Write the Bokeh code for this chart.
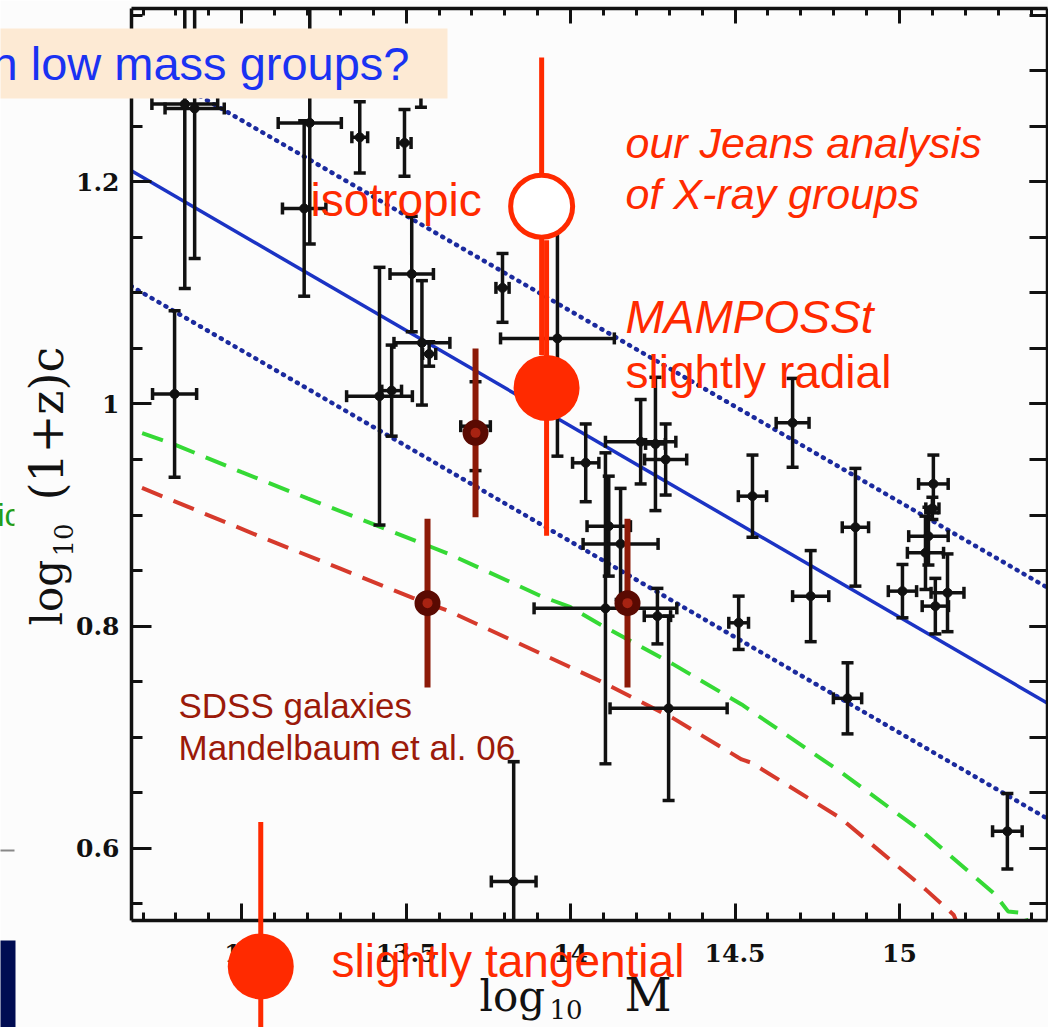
from math import pi

from bokeh.core.properties import value
from bokeh.embed import file_html
from bokeh.models import CustomJSTickFormatter, LinearAxis, Range1d, SingleIntervalTicker
from bokeh.plotting import figure
from bokeh.resources import INLINE

# ---------------------------------------------------------------------------
# X-ray groups and clusters: log10 M, log10 (1+z)c and their 1-sigma errors
group_logm = [12.827, 12.857, 13.207, 13.190, 13.359, 13.495, 13.545, 13.517, 13.548,
              13.570, 12.796, 13.419, 13.456, 13.793, 13.960, 13.711, 14.046, 14.213,
              14.258, 14.289, 14.116, 14.152, 14.106, 14.264, 14.298, 13.827, 14.553,
              14.511, 14.675, 14.730, 14.866, 14.842, 15.009, 15.103, 15.100, 15.088,
              15.079, 15.109, 15.146, 15.328]
group_logc = [1.270, 1.266, 1.253, 1.176, 1.240, 1.235, 1.300, 1.117, 1.055,
              1.045, 1.009, 1.007, 1.012, 1.1045, 1.059, 0.980, 0.947, 0.966,
              0.964, 0.950, 0.890, 0.874, 0.816, 0.809, 0.726, 0.570, 0.917,
              0.803, 0.983, 0.827, 0.889, 0.735, 0.8315, 0.928, 0.906, 0.881,
              0.866, 0.818, 0.830, 0.6153]
group_logm_err = [0.100, 0.090, 0.096, 0.066, 0.024, 0.020, 0.020, 0.066, 0.085,
                  0.020, 0.067, 0.100, 0.030, 0.020, 0.173, 0.045, 0.040, 0.107,
                  0.030, 0.064, 0.066, 0.114, 0.217, 0.040, 0.178, 0.068, 0.043,
                  0.030, 0.050, 0.055, 0.040, 0.043, 0.043, 0.045, 0.020, 0.060,
                  0.055, 0.040, 0.050, 0.045]
group_logc_err = [0.166, 0.135, 0.109, 0.079, 0.032, 0.030, 0.033, 0.052, 0.056,
                  0.011, 0.075, 0.116, 0.041, 0.031, 0.106, 0.040, 0.035, 0.038,
                  0.060, 0.032, 0.045, 0.050, 0.140, 0.025, 0.083, 0.108, 0.037,
                  0.024, 0.040, 0.041, 0.053, 0.032, 0.024, 0.026, 0.010, 0.026,
                  0.033, 0.025, 0.035, 0.034]

# power-law c-M fit with its +/- scatter
fit_logm = [12.60, 15.50]
fit_logc = [1.221, 0.722]
fit_logc_hi = [1.324, 0.826]
fit_logc_lo = [1.117, 0.618]

# LCDM predictions
model_a_logm = [12.60, 12.80, 13.00, 13.20, 13.40, 13.63, 13.80, 13.91, 14.00, 14.09,
                14.31, 14.52, 14.82, 15.08, 15.29, 15.33, 15.38, 15.42]
model_a_logc = [0.984, 0.963, 0.9386, 0.915, 0.8918, 0.865, 0.842, 0.827, 0.817, 0.8015,
                0.766, 0.7295, 0.669, 0.6124, 0.5586, 0.5432, 0.5417, 0.50]
model_b_logm = [12.60, 12.67, 13.065, 13.30, 13.52, 13.63, 13.85, 14.09, 14.31, 14.52,
                14.55, 14.82, 15.08, 15.165, 15.22]
model_b_logc = [0.935, 0.9277, 0.8796, 0.8517, 0.8255, 0.8135, 0.7835, 0.7505, 0.7174,
                0.680, 0.677, 0.6273, 0.5628, 0.540, 0.50]

# weak lensing of SDSS galaxies (Mandelbaum et al. 06)
sdss_logm = [13.711, 13.565, 14.173]
sdss_logc = [0.974, 0.8207, 0.8207]
sdss_logc_err = [0.076, 0.076, 0.076]

# Jeans analysis of X-ray groups
iso_logm = [13.912]
iso_logc = [1.178]
iso_logc_err = [0.134]
mamposst_logm = [13.927, 13.058]
mamposst_logc = [1.0144, 0.4937]
mamposst_logc_err = [0.133, 0.130]

# ---------------------------------------------------------------------------
X0, X1 = 12.665, 15.45
Y0, Y1 = 0.535, 1.356
W, H = 1048, 1027
FL, FR, FT, FB = 131, 1047, 8, 920


def at_x(px):
    return X0 + (px - FL) * (X1 - X0) / (FR - FL)


def at_y(py):
    return Y1 - (py - FT) * (Y1 - Y0) / (FB - FT)


RED = "#ff2a00"
MAROON = "#8c1a08"
INK = "#111111"
BG = "#fcfcfc"
SANS = "Liberation Sans"
SERIF = "DejaVu Serif"

p = figure(width=W, height=H, x_range=Range1d(X0, X1), y_range=Range1d(Y0, Y1),
           output_backend="svg", toolbar_location=None,
           min_border_left=FL, min_border_right=W - FR, min_border_top=FT,
           min_border_bottom=H - FB, background_fill_color=BG,
           border_fill_color=BG)
p.outline_line_color = None
p.grid.visible = False

fmt = CustomJSTickFormatter(code="return String(Math.round(tick * 100) / 100);")
blank = CustomJSTickFormatter(code="return '';")


def style_axis(ax, labelled, major_in, minor_in):
    ax.axis_line_width = 3.5
    ax.axis_line_color = INK
    ax.major_tick_line_width = 3
    ax.minor_tick_line_width = 3
    ax.major_tick_line_color = INK
    ax.minor_tick_line_color = INK
    ax.major_tick_in = major_in
    ax.major_tick_out = 0
    ax.minor_tick_in = minor_in
    ax.minor_tick_out = 0
    if labelled:
        ax.formatter = fmt
        ax.major_label_text_font = SERIF
        ax.major_label_text_font_style = "bold"
        ax.major_label_text_font_size = "25px"
        ax.major_label_text_color = INK
    else:
        ax.formatter = blank
        ax.major_label_standoff = 0
        ax.major_label_text_font_size = "1px"


xb = p.xaxis[0]
xb.ticker = SingleIntervalTicker(interval=0.5, num_minor_ticks=5)
style_axis(xb, True, 17, 8)
xb.major_label_standoff = 23

yl = p.yaxis[0]
yl.ticker = SingleIntervalTicker(interval=0.2, num_minor_ticks=4)
style_axis(yl, True, 20, 11)
yl.major_label_standoff = 12

xt = LinearAxis(ticker=SingleIntervalTicker(interval=0.5, num_minor_ticks=5))
style_axis(xt, False, 15, 7)
p.add_layout(xt, "above")
yr = LinearAxis(ticker=SingleIntervalTicker(interval=0.2, num_minor_ticks=4))
style_axis(yr, False, 18, 18)
p.add_layout(yr, "right")

# model curves and fit
p.line(model_a_logm, model_a_logc, line_color="#35d935", line_width=4, line_dash="22 12")
p.line(model_b_logm, model_b_logc, line_color="#d63a2c", line_width=4, line_dash="22 12")
p.line(fit_logm, fit_logc, line_color="#1b33c4", line_width=3.5)
p.line(fit_logm, fit_logc_hi, line_color="#1b2a9e", line_width=4.5, line_dash="1 7",
       line_cap="round")
p.line(fit_logm, fit_logc_lo, line_color="#1b2a9e", line_width=4.5, line_dash="1 7",
       line_cap="round")

# error bars with caps
cap_x = 6 * (X1 - X0) / (FR - FL)
cap_y = 6 * (Y1 - Y0) / (FB - FT)
x0s, y0s, x1s, y1s = [], [], [], []
for x, y, ex, ey in zip(group_logm, group_logc, group_logm_err, group_logc_err):
    x0s += [x, x - ex, x - cap_x, x - cap_x, x - ex, x + ex]
    x1s += [x, x + ex, x + cap_x, x + cap_x, x - ex, x + ex]
    y0s += [y - ey, y, y - ey, y + ey, y - cap_y, y - cap_y]
    y1s += [y + ey, y, y - ey, y + ey, y + cap_y, y + cap_y]
p.segment(x0s, y0s, x1s, y1s, line_color=INK, line_width=3.5)
p.scatter(group_logm, group_logc, size=9, color=INK)

# SDSS lensing points
p.segment(sdss_logm, [y - e for y, e in zip(sdss_logc, sdss_logc_err)],
          sdss_logm, [y + e for y, e in zip(sdss_logc, sdss_logc_err)],
          line_color=MAROON, line_width=6)
p.scatter(sdss_logm, sdss_logc, size=26, fill_color="#5a0a02", line_color=None)
p.scatter(sdss_logm, sdss_logc, size=10, fill_color="#a82312", line_color=None)

# Jeans analysis results (drawn above the axes)
p.segment(iso_logm, [y - e for y, e in zip(iso_logc, iso_logc_err)],
          iso_logm, [y + e for y, e in zip(iso_logc, iso_logc_err)],
          line_color=RED, line_width=5, level="overlay")
p.segment(mamposst_logm, [y - e for y, e in zip(mamposst_logc, mamposst_logc_err)],
          mamposst_logm, [y + e for y, e in zip(mamposst_logc, mamposst_logc_err)],
          line_color=RED, line_width=5, level="overlay")
p.scatter(iso_logm, iso_logc, size=62, fill_color="white", line_color=RED,
          line_width=5, level="overlay")
p.scatter(mamposst_logm, mamposst_logc, size=66, fill_color=RED, line_color=None,
          level="overlay")

# glyph text sits a little below the requested baseline; lift it back
LIFT = 0.38


def text(s, px, py, size, color, font=SANS, style="normal", angle=0.0):
    if angle:
        px -= LIFT * size
    else:
        py -= LIFT * size
    p.text(x=[at_x(px)], y=[at_y(py)], text=[s], text_font=value(font),
           text_font_size=value(f"{size}px"), text_font_style=style,
           text_color=color, text_align="left", text_baseline="alphabetic",
           angle=angle, level="overlay")


def box(l, r, t, b, color):
    p.quad(left=[at_x(l)], right=[at_x(r)], top=[at_y(t)], bottom=[at_y(b)],
           fill_color=color, line_color=None, level="overlay")


# axis titles
text("log", 479, 1012, 42, INK, font=SERIF)
text("10", 549, 1019, 26, INK, font=SERIF)
text("M", 624, 1012, 46, INK, font=SERIF)
text("log", 63, 625, 42, INK, font=SERIF, angle=pi / 2)
text("10", 73, 556, 26, INK, font=SERIF, angle=pi / 2)
text("(1+z)c", 64, 500, 46, INK, font=SERIF, angle=pi / 2)

# annotations
text("isotropic", 310, 217, 46, RED)
text("our Jeans analysis", 625, 159, 43, RED, style="italic")
text("of X-ray groups", 625, 210, 43, RED, style="italic")
text("MAMPOSSt", 625, 334, 46, RED, style="italic")
text("slightly radial", 625, 389, 46, RED)
text("slightly tangential", 331, 978, 46, RED)
text("SDSS galaxies", 178, 718, 35, "#9b1a0a")
text("Mandelbaum et al. 06", 178, 760, 35, "#9b1a0a")

# slide header box
box(0, 447, 28, 98, "#fdead4")
text("n low mass groups?", -9, 81, 47, "#1a32f2")

# slide items at the left edge
text("ic", -3, 527, 32, "#1e9e1e")
box(14, 26, 496, 534, BG)
box(0, 14, 849, 851, "#888888")
box(0, 15, 940, 1030, "#000c52")

open("out.html", "w").write(file_html(p, INLINE))
